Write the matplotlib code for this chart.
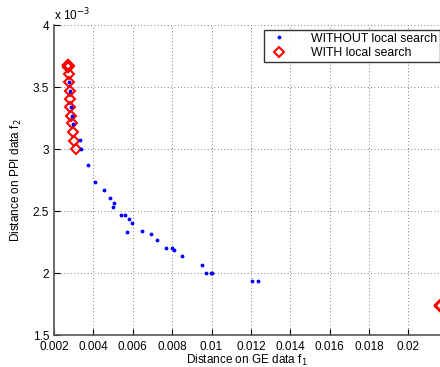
import numpy as np
import matplotlib.pyplot as plt
from matplotlib.ticker import FuncFormatter

plt.rcParams['font.family'] = ['Liberation Sans', 'DejaVu Sans']

# blue points: result without local search
f1_without = [0.002752, 0.002803, 0.002869, 0.002904, 0.002955, 0.0033, 0.003391,
              0.003731, 0.004071, 0.004528, 0.004832, 0.005035, 0.005015, 0.00539,
              0.005593, 0.005826, 0.005978, 0.00571, 0.006486, 0.006942, 0.007216,
              0.007703, 0.008008, 0.008094, 0.008485, 0.0095, 0.009702, 0.009956,
              0.010037, 0.012066, 0.012371]
f2_without = [3.538, 3.470, 3.336, 3.269, 3.202, 3.069, 3.000, 2.869, 2.734, 2.667,
              2.601, 2.565, 2.535, 2.468, 2.468, 2.438, 2.401, 2.333, 2.336, 2.312,
              2.269, 2.202, 2.202, 2.188, 2.135, 2.067, 2.000, 2.000, 2.000, 1.938,
              1.933]

# red diamonds: result with local search (several solutions overlap at the ends)
f1_with = [0.002725, 0.002730, 0.002735, 0.002740, 0.002732, 0.002728,
           0.002752, 0.002767, 0.002803, 0.002803, 0.002833, 0.002853, 0.002904,
           0.002955, 0.003021, 0.003122,
           0.0216, 0.0216, 0.0216, 0.02158]
f2_with = [3.680, 3.676, 3.672, 3.668, 3.664, 3.660,
           3.605, 3.538, 3.470, 3.403, 3.336, 3.269, 3.207,
           3.135, 3.067, 2.998,
           1.734, 1.738, 1.730, 1.734]

f2_without = np.array(f2_without) * 1e-3
f2_with = np.array(f2_with) * 1e-3

fig = plt.figure(figsize=(4.4, 3.67), dpi=100)
ax = fig.add_axes([54/440, 1 - 335/367, (440 - 54)/440, (335 - 25)/367])

ax.plot(f1_without, f2_without, '.', color='#0000ff', markersize=3.5,
        label='WITHOUT local search', zorder=3)
ax.plot(f1_with, f2_with, 'D', color='#ff0000', markerfacecolor='none',
        markersize=5, markeredgewidth=1.5, label='WITH local search',
        zorder=2)

ax.set_xlim(0.002, 0.0216)
ax.set_ylim(1.5e-3, 4e-3)
ax.set_xticks(np.arange(0.002, 0.0201, 0.002))
ax.set_yticks(np.arange(1.5e-3, 4.01e-3, 0.5e-3))
ax.xaxis.set_major_formatter(FuncFormatter(lambda v, p: '%g' % round(v, 4)))
ax.yaxis.set_major_formatter(FuncFormatter(lambda v, p: '%g' % round(v * 1e3, 2)))
ax.tick_params(direction='in', length=4, width=0.8, labelsize=8.5)
ax.tick_params(axis='x', pad=4)

ax.grid(True, linestyle=(0, (1, 3)), color='#555555', linewidth=0.6)
ax.spines['top'].set_visible(False)
ax.spines['right'].set_visible(False)
for s in ['left', 'bottom']:
    ax.spines[s].set_color('#555555')
    ax.spines[s].set_linewidth(1.2)

ax.text(0, 1.005, r'x 10$^{-3}$', transform=ax.transAxes, fontsize=8.5,
        ha='left', va='bottom')

ax.set_xlabel('Distance on GE data f$_1$', fontsize=8.5, labelpad=0)
ax.set_ylabel('Distance on PPI data f$_2$', fontsize=8.5, labelpad=6)

leg = ax.legend(loc='upper right', bbox_to_anchor=(1.0, 0.985), fontsize=8.8,
                frameon=True, fancybox=False, edgecolor='black',
                borderpad=0.25, handletextpad=1.6, handlelength=2.0,
                labelspacing=0.2, borderaxespad=0)
leg.get_frame().set_linewidth(1.0)

fig.savefig('out.png', dpi=100)
